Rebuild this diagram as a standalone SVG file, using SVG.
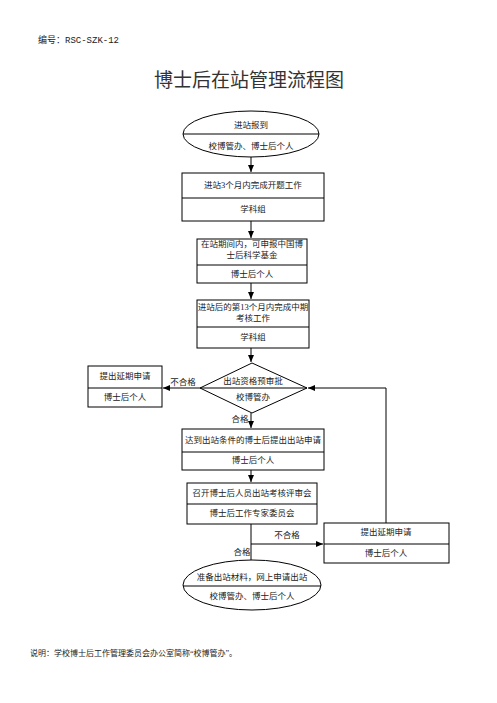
<svg xmlns="http://www.w3.org/2000/svg" width="497" height="703" viewBox="0 0 497 703">
<defs>
<marker id="ah" markerWidth="8" markerHeight="8" refX="7" refY="4" orient="auto" markerUnits="userSpaceOnUse">
<path d="M0,1 L7,4 L0,7 z" fill="#000"/>
</marker>
<style>
text{font-family:"Liberation Serif","Noto Sans CJK SC",serif;fill:#222}
.t{font-size:8.5px;text-anchor:middle}
.shape{fill:#fff;stroke:#000;stroke-width:1}
.ln{fill:none;stroke:#000;stroke-width:1}
.arr{fill:none;stroke:#000;stroke-width:1;marker-end:url(#ah)}
</style>
</defs>
<rect width="497" height="703" fill="#fff"/>
<text x="38" y="43" style="font-size:9px;font-family:'Liberation Mono','Noto Sans CJK SC',monospace">编号：RSC-SZK-12</text>
<text x="249" y="87" style="font-size:19px;text-anchor:middle;fill:#333">博士后在站管理流程图</text>

<g id="connectors">
<path class="arr" d="M251,157 L251,172"/>
<path class="arr" d="M251,221 L251,238"/>
<path class="arr" d="M251,283 L251,299"/>
<path class="arr" d="M251,348 L251,362"/>
<path class="arr" d="M200,388 L163,388"/>
<path class="arr" d="M251,413 L251,428"/>
<path class="arr" d="M251,470 L251,482"/>
<path class="ln" d="M251,524 L251,560"/>
<path class="arr" d="M251,544 L323,544"/>
<path class="ln" d="M386,523 L386,388"/>
<path class="arr" d="M386,388 L308,388"/>
<text class="t" x="183" y="385">不合格</text>
<text class="t" x="240" y="422">合格</text>
<text class="t" x="287" y="538">不合格</text>
<text class="t" x="242" y="555">合格</text>
</g>

<g id="start">
<ellipse class="shape" cx="251" cy="134" rx="68" ry="23"/>
<line class="ln" x1="183" y1="134" x2="319" y2="134"/>
<text class="t" x="251" y="128">进站报到</text>
<text class="t" x="251" y="149">校博管办、博士后个人</text>
</g>

<g id="box1">
<rect class="shape" x="182" y="173" width="142" height="48"/>
<line class="ln" x1="182" y1="198" x2="324" y2="198"/>
<text class="t" x="253" y="188">进站3个月内完成开题工作</text>
<text class="t" x="253" y="212">学科组</text>
</g>

<g id="box2">
<rect class="shape" x="197" y="239" width="110" height="44"/>
<line class="ln" x1="197" y1="265" x2="307" y2="265"/>
<text class="t" x="252" y="247">在站期间内，可申报中国博</text>
<text class="t" x="252" y="258">士后科学基金</text>
<text class="t" x="252" y="277">博士后个人</text>
</g>

<g id="box3">
<rect class="shape" x="197" y="300" width="112" height="48"/>
<line class="ln" x1="197" y1="327" x2="309" y2="327"/>
<text class="t" x="253" y="310">进站后的第13个月内完成中期</text>
<text class="t" x="253" y="321">考核工作</text>
<text class="t" x="253" y="340">学科组</text>
</g>

<g id="decision">
<path class="shape" d="M252,363 L307,388 L252,413 L200,388 Z"/>
<line class="ln" x1="200" y1="388" x2="307" y2="388"/>
<text class="t" x="253" y="384">出站资格预审批</text>
<text class="t" x="253" y="400">校博管办</text>
</g>

<g id="delay1">
<rect class="shape" x="88" y="366" width="74" height="41"/>
<line class="ln" x1="88" y1="388" x2="162" y2="388"/>
<text class="t" x="125" y="379">提出延期申请</text>
<text class="t" x="125" y="400">博士后个人</text>
</g>

<g id="box4">
<rect class="shape" x="182" y="429" width="142" height="41"/>
<line class="ln" x1="182" y1="452" x2="324" y2="452"/>
<text class="t" x="253" y="443">达到出站条件的博士后提出出站申请</text>
<text class="t" x="253" y="463">博士后个人</text>
</g>

<g id="box5">
<rect class="shape" x="187" y="483" width="130" height="41"/>
<line class="ln" x1="187" y1="504" x2="317" y2="504"/>
<text class="t" x="252" y="496">召开博士后人员出站考核评审会</text>
<text class="t" x="252" y="516">博士后工作专家委员会</text>
</g>

<g id="delay2">
<rect class="shape" x="324" y="523" width="125" height="40"/>
<line class="ln" x1="324" y1="544" x2="449" y2="544"/>
<text class="t" x="386" y="535">提出延期申请</text>
<text class="t" x="386" y="556">博士后个人</text>
</g>

<g id="end">
<ellipse class="shape" cx="252" cy="585" rx="69" ry="25"/>
<line class="ln" x1="183" y1="586" x2="321" y2="586"/>
<text class="t" x="252" y="580">准备出站材料，网上申请出站</text>
<text class="t" x="252" y="599">校博管办、博士后个人</text>
</g>

<text x="30" y="656" style="font-size:8px">说明：学校博士后工作管理委员会办公室简称“校博管办”。</text>
</svg>
